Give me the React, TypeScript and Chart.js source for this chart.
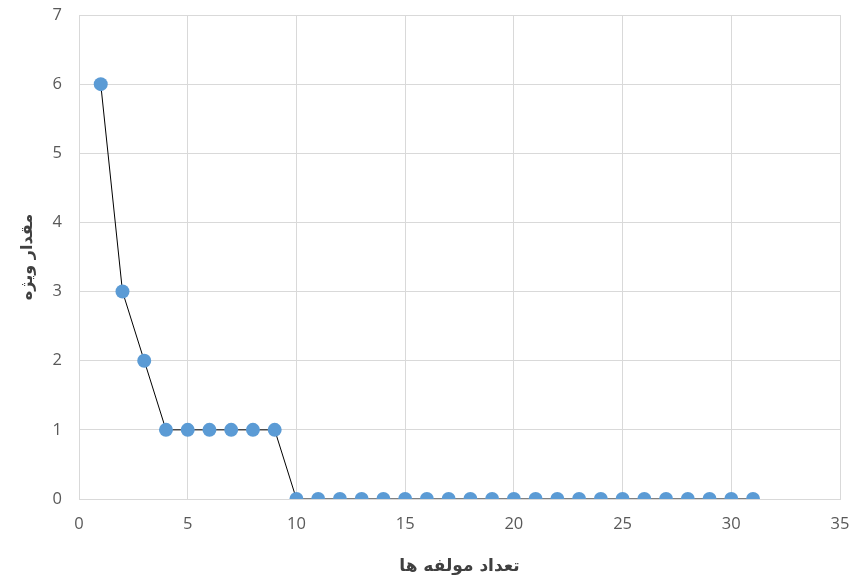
import React, { useEffect, useRef } from "react";
import { Chart, registerables } from "chart.js";

Chart.register(...registerables);

const components: number[] = [1, 2, 3, 4, 5, 6, 7, 8, 9, 10, 11, 12, 13, 14, 15, 16, 17, 18, 19, 20, 21, 22, 23, 24, 25, 26, 27, 28, 29, 30, 31];
const eigenvalues: number[] = [6, 3, 2, 1, 1, 1, 1, 1, 1, 0, 0, 0, 0, 0, 0, 0, 0, 0, 0, 0, 0, 0, 0, 0, 0, 0, 0, 0, 0, 0, 0];
const xTitle = "تعداد مولفه ها";
const yTitle = "مقدار ویژه";

export default function App() {
  const ref = useRef<HTMLCanvasElement | null>(null);
  useEffect(() => {
    if (!ref.current) return;
    const data = components.map((x, i) => ({ x, y: eigenvalues[i] }));
    const chart = new Chart(ref.current, {
      type: "scatter",
      data: {
        datasets: [
          {
            data,
            showLine: true,
            borderColor: "#000000",
            borderWidth: 1,
            pointBackgroundColor: "#5B9BD5",
            pointBorderColor: "#5B9BD5",
            pointRadius: 7,
            pointBorderWidth: 0,
          },
        ],
      },
      options: {
        animation: false,
        responsive: false,
        maintainAspectRatio: false,
        layout: { padding: { left: 18, top: 15, right: 10, bottom: 0 } },
        plugins: { legend: { display: false }, tooltip: { enabled: false } },
        scales: {
          x: {
            type: "linear",
            min: 0,
            max: 35,
            ticks: { stepSize: 5, color: "#595959", font: { family: "Open Sans", size: 16.5 }, padding: 15 },
            grid: { color: "#d9d9d9", drawTicks: false },
            border: { color: "#d9d9d9" },
            title: { display: true, text: xTitle, color: "#404040", font: { family: "DejaVu Sans", size: 17, weight: "bold" }, padding: { top: 8, bottom: 0 } },
            afterFit: (s: any) => { s.height = 78; s.paddingLeft = 0; s.paddingRight = 0; },
          },
          y: {
            min: 0,
            max: 7,
            ticks: { stepSize: 1, color: "#595959", font: { family: "Open Sans", size: 16.5 }, padding: 17 },
            grid: { color: "#d9d9d9", drawTicks: false },
            border: { color: "#d9d9d9" },
            title: { display: true, text: yTitle, color: "#404040", font: { family: "DejaVu Sans", size: 16, weight: "bold" }, padding: { top: 0, bottom: 0 } },
            afterFit: (s: any) => { s.width = 61; s.paddingTop = 0; s.paddingBottom = 0; },
          },
        },
      },
    });
    return () => chart.destroy();
  }, []);
  return (
    <div style={{ position: "absolute", left: 0, top: 0, width: 850, height: 577, background: "#fff" }}>
      <canvas ref={ref} width={850} height={577} style={{ width: 850, height: 577 }} />
    </div>
  );
}
